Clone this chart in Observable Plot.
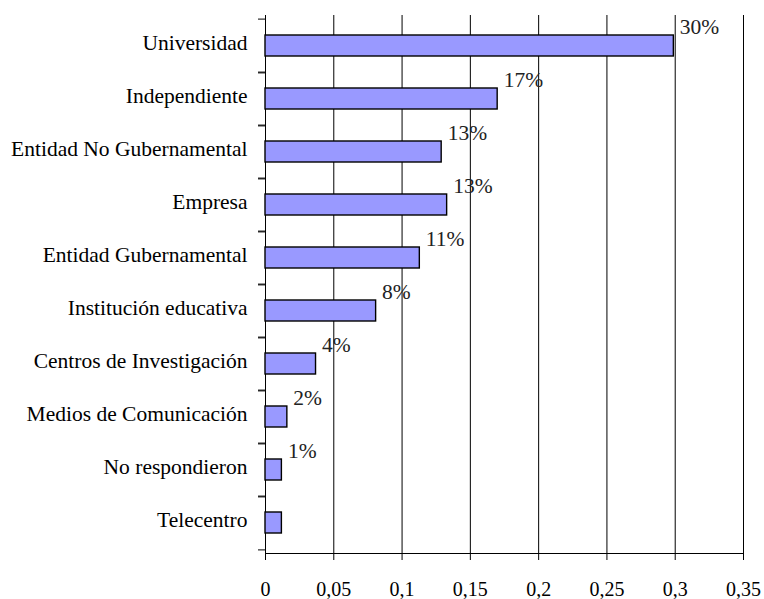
<!DOCTYPE html>
<html>
<head>
<meta charset="utf-8">
<script src="https://cdn.jsdelivr.net/npm/d3@7"></script>
<script src="https://cdn.jsdelivr.net/npm/@observablehq/plot@0.6"></script>
<style>
  html, body { margin: 0; padding: 0; background: white; }
</style>
</head>
<body>
<div id="chart"></div>
<script>
const categories = [
  "Universidad",
  "Independiente",
  "Entidad No Gubernamental",
  "Empresa",
  "Entidad Gubernamental",
  "Institución educativa",
  "Centros de Investigación",
  "Medios de Comunicación",
  "No respondieron",
  "Telecentro"
];
const values = [0.299, 0.170, 0.129, 0.133, 0.113, 0.081, 0.037, 0.016, 0.012, 0.012];
const valueLabels = ["30%", "17%", "13%", "13%", "11%", "8%", "4%", "2%", "1%", ""];
const xTicks = [0, 0.05, 0.1, 0.15, 0.2, 0.25, 0.3, 0.35];
const xTickLabels = ["0", "0,05", "0,1", "0,15", "0,2", "0,25", "0,3", "0,35"];

const data = categories.map((c, i) => ({category: c, value: values[i], label: valueLabels[i]}));

const W = 764, H = 599, mTop = 15, mBottom = 46, mLeft = 265, mRight = 21;
const step = (H - mTop - mBottom) / categories.length;
const FONT = "Liberation Serif";

const chart = Plot.plot({
  width: W,
  height: H,
  marginLeft: mLeft,
  marginRight: mRight,
  marginTop: mTop,
  marginBottom: mBottom,
  style: {fontFamily: FONT, fontSize: "20px"},
  x: {domain: [0, 0.35]},
  y: {domain: categories, paddingInner: 0.6, paddingOuter: 0.3},
  marks: [
    Plot.gridX(xTicks, {stroke: "black", strokeOpacity: 1, strokeWidth: 1}),
    Plot.frame({anchor: "left", stroke: "black"}),
    Plot.frame({anchor: "bottom", stroke: "black"}),
    Plot.barX(data, {x: "value", y: "category", fill: "#9999FF", stroke: "black", strokeWidth: 1.4}),
    Plot.text(data, {x: "value", y: "category", text: "label", textAnchor: "start", dx: 6, dy: -19, fill: "#222", fontSize: 21.5}),
    Plot.axisX(xTicks, {tickSize: 7, tickPadding: 21, tickFormat: d => xTickLabels[xTicks.indexOf(d)], label: null, fontSize: 20}),
    Plot.axisY({tickSize: 0, tickPadding: 18, dy: -3, label: null, fontSize: 21.5}),
    Plot.axisY({tickSize: 7, tickFormat: () => "", dy: step / 2, label: null}),
    Plot.axisY({tickSize: 7, tickFormat: () => "", dy: -step / 2, label: null})
  ]
});
document.getElementById("chart").append(chart);
</script>
</body>
</html>
